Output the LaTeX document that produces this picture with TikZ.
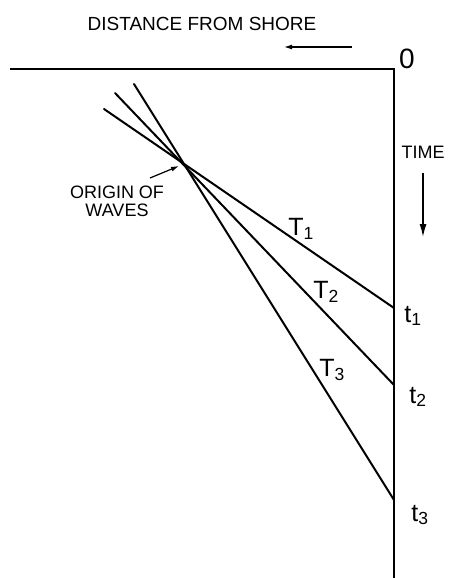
\documentclass[tikz,border=0pt]{standalone}
\usepackage{fontspec}
\setmainfont{Liberation Sans}
\usetikzlibrary{arrows.meta,positioning}

\begin{document}
\begin{tikzpicture}[x=1pt,y=-1pt,
axis/.style={line width=1.8pt,line join=miter},
ray/.style={line width=2pt,line cap=round},
lbl/.style={inner sep=0pt,font=\fontsize{18}{18}\selectfont},
big/.style={inner sep=0pt,font=\fontsize{25}{26}\selectfont},
arr/.style={-{Latex[length=8pt,width=5pt]},line width=1.2pt},
bigarr/.style={-{Latex[length=13pt,width=7pt]},line width=1.5pt}
]
\useasboundingbox (0,0) rectangle (448,578);
% axes
\coordinate (zero) at (394,69);
\coordinate (left) at (10,69);
\coordinate (bot) at (394,578);
\draw[axis] (left) -- (zero) -- (bot);
\node[inner sep=0pt,font=\fontsize{28}{28}\selectfont] (o) at (407,59) {0};
\node[lbl,font=\fontsize{19}{19}\selectfont] (dist) at (202,24) {DISTANCE FROM SHORE};
\coordinate (da) at (352,47);
\coordinate (db) at (284,47);
\draw[arr] (da) -- (db);
\node[lbl] (time) at (423,152) {TIME};
\coordinate (ta) at (423,173);
\coordinate (tb) at (423,237);
\draw[bigarr] (ta) -- (tb);
% rays from origin of waves
\coordinate (s1) at (104,109);
\coordinate (s2) at (115,93);
\coordinate (s3) at (134,84);
\coordinate (e1) at (394,308);
\coordinate (e2) at (394,385);
\coordinate (e3) at (394,500);
\draw[ray] (s1) -- (e1);
\draw[ray] (s2) -- (e2);
\draw[ray] (s3) -- (e3);
\coordinate (src) at (179,166);
\node[lbl,align=center] (orig) at (117,201) {ORIGIN OF\\WAVES};
\coordinate (oa) at (150,178);
\draw[arr] (oa) -- (src);
% labels
\node[big] (T1) at (301,229) {T\textsubscript{1}};
\node[big] (T2) at (326,292) {T\textsubscript{2}};
\node[big] (T3) at (332,370) {T\textsubscript{3}};
\node[big] (t1) at (413,316) {t\textsubscript{1}};
\node[big] (t2) at (418,397) {t\textsubscript{2}};
\node[big] (t3) at (420,515) {t\textsubscript{3}};
\end{tikzpicture}
\end{document}
